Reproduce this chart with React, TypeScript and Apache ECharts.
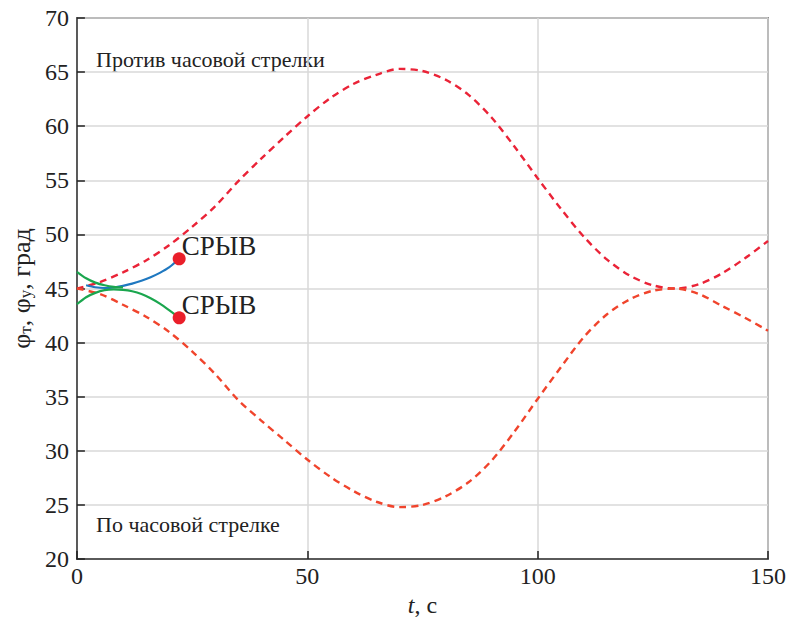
import React, { useEffect, useRef } from "react";
import * as echarts from "echarts";

// time grid for the dashed boundary curves, s
const tGrid = [0, 5, 10, 15, 20, 25, 30, 35, 40, 45, 50, 55, 60, 65, 70, 75, 80, 85, 90, 95, 100, 105, 110, 115, 120, 125, 130, 135, 140, 145, 150];
// counter-clockwise boundary, deg
const ccwAngle = [45.0, 45.6, 46.5, 47.6, 49.0, 50.7, 52.6, 54.9, 57.0, 59.0, 60.9, 62.6, 63.9, 64.75, 65.3, 65.1, 64.3, 62.9, 60.8, 58.1, 55.2, 52.4, 49.8, 47.7, 46.2, 45.3, 45.0, 45.4, 46.4, 47.8, 49.4];
// clockwise boundary, deg
const cwAngle = [45.0, 44.5, 43.5, 42.4, 41.0, 39.2, 37.1, 34.7, 32.8, 31.0, 29.2, 27.6, 26.3, 25.3, 24.8, 25.0, 25.8, 27.1, 29.1, 31.8, 34.8, 37.7, 40.5, 42.6, 44.0, 44.8, 45.0, 44.5, 43.4, 42.3, 41.1];

// solid curves, s / deg
const tBlue = [2, 4, 6, 8, 10, 12, 14, 16, 18, 20, 22.2];
const blueVals = [45.3, 45.12, 45.05, 45.1, 45.25, 45.45, 45.72, 46.05, 46.45, 46.95, 47.75];
const tGreenUp = [0, 2, 4, 6, 8, 10];
const greenUpVals = [46.55, 45.95, 45.55, 45.3, 45.15, 45.1];
const tGreenLow = [0, 2, 4, 6, 8, 10, 12, 14, 16, 18, 20, 22.2];
const greenLowVals = [43.55, 44.2, 44.6, 44.85, 44.92, 44.88, 44.75, 44.5, 44.1, 43.6, 43.0, 42.3];

// failure points
const failT = [22.2, 22.2];
const failVals = [47.75, 42.3];
const failLabel = "СРЫВ";

const xTicks = { min: 0, max: 150, interval: 50 };
const yTicks = { min: 20, max: 70, interval: 5 };

const FONT = "Liberation Serif";
const TEXT = "#222";

const pairs = (xs: number[], ys: number[]) => xs.map((x, i) => [x, ys[i]]);

export default function App() {
  const ref = useRef<HTMLDivElement>(null);
  useEffect(() => {
    document.body.style.margin = "0";
    if (!ref.current) return;
    const chart = echarts.init(ref.current, null, { renderer: "svg" });
    chart.setOption({
      animation: false,
      backgroundColor: "#fff",
      grid: {
        left: 74,
        right: 21,
        top: 18,
        bottom: 56,
        show: true,
        borderColor: "#3a3a3a",
        borderWidth: 1.5,
      },
      xAxis: {
        type: "value",
        ...xTicks,
        name: "{i|t}{n|, с}",
        nameLocation: "middle",
        nameGap: 27,
        nameTextStyle: {
          fontFamily: FONT,
          rich: {
            i: { fontFamily: FONT, fontSize: 24, fontStyle: "italic", color: TEXT },
            n: { fontFamily: FONT, fontSize: 24, color: TEXT },
          },
        },
        axisLine: { show: true, lineStyle: { color: "#3a3a3a", width: 1.5 } },
        axisTick: { show: true, inside: true, length: 8, lineStyle: { color: "#222", width: 1.5 } },
        axisLabel: { fontFamily: FONT, fontSize: 24, color: TEXT, margin: 5 },
        splitLine: { show: true, lineStyle: { color: "#d8d8d8", width: 1.5 } },
      },
      yAxis: {
        type: "value",
        ...yTicks,
        name: "{a|φ}{s|т}{a|, φ}{s|у}{a|, град}",
        nameLocation: "middle",
        nameRotate: 90,
        nameGap: 36,
        nameTextStyle: {
          fontFamily: FONT,
          rich: {
            a: { fontFamily: FONT, fontSize: 26, color: TEXT, lineHeight: 32, verticalAlign: "bottom" },
            s: { fontFamily: FONT, fontSize: 17, color: TEXT, lineHeight: 32, verticalAlign: "bottom" },
          },
        },
        axisLine: { show: true, lineStyle: { color: "#3a3a3a", width: 1.5 } },
        axisTick: { show: true, inside: true, length: 8, lineStyle: { color: "#222", width: 1.5 } },
        axisLabel: { fontFamily: FONT, fontSize: 24, color: TEXT, margin: 8 },
        splitLine: { show: true, lineStyle: { color: "#d8d8d8", width: 1.5 } },
      },
      graphic: [
        {
          type: "text",
          left: 96,
          top: 48,
          style: { text: "Против часовой стрелки", fontFamily: FONT, fontSize: 22, fill: TEXT },
        },
        {
          type: "text",
          left: 96,
          top: 513,
          style: { text: "По часовой стрелке", fontFamily: FONT, fontSize: 22, fill: TEXT },
        },
      ],
      series: [
        {
          type: "line",
          data: pairs(tGrid, ccwAngle),
          smooth: 0.3,
          showSymbol: false,
          lineStyle: { color: "#ea2337", width: 2.4, type: [7, 5] },
          z: 2,
        },
        {
          type: "line",
          data: pairs(tGrid, cwAngle),
          smooth: 0.3,
          showSymbol: false,
          lineStyle: { color: "#f0442c", width: 2.4, type: [7, 5] },
          z: 2,
        },
        {
          type: "line",
          data: pairs(tBlue, blueVals),
          smooth: 0.3,
          showSymbol: false,
          lineStyle: { color: "#1f78c0", width: 2.2 },
          z: 3,
        },
        {
          type: "line",
          data: pairs(tGreenUp, greenUpVals),
          smooth: 0.3,
          showSymbol: false,
          lineStyle: { color: "#1aa64e", width: 2.2 },
          z: 4,
        },
        {
          type: "line",
          data: pairs(tGreenLow, greenLowVals),
          smooth: 0.3,
          showSymbol: false,
          lineStyle: { color: "#1aa64e", width: 2.2 },
          z: 4,
        },
        {
          type: "scatter",
          data: pairs(failT, failVals),
          symbol: "circle",
          symbolSize: 13,
          itemStyle: { color: "#ea1f2a", opacity: 1 },
          label: {
            show: true,
            formatter: failLabel,
            position: "right",
            offset: [-9, -13],
            fontFamily: FONT,
            fontSize: 27,
            color: TEXT,
          },
          z: 5,
        },
      ],
    });
    return () => chart.dispose();
  }, []);
  return <div ref={ref} style={{ width: 789, height: 622 }} />;
}
